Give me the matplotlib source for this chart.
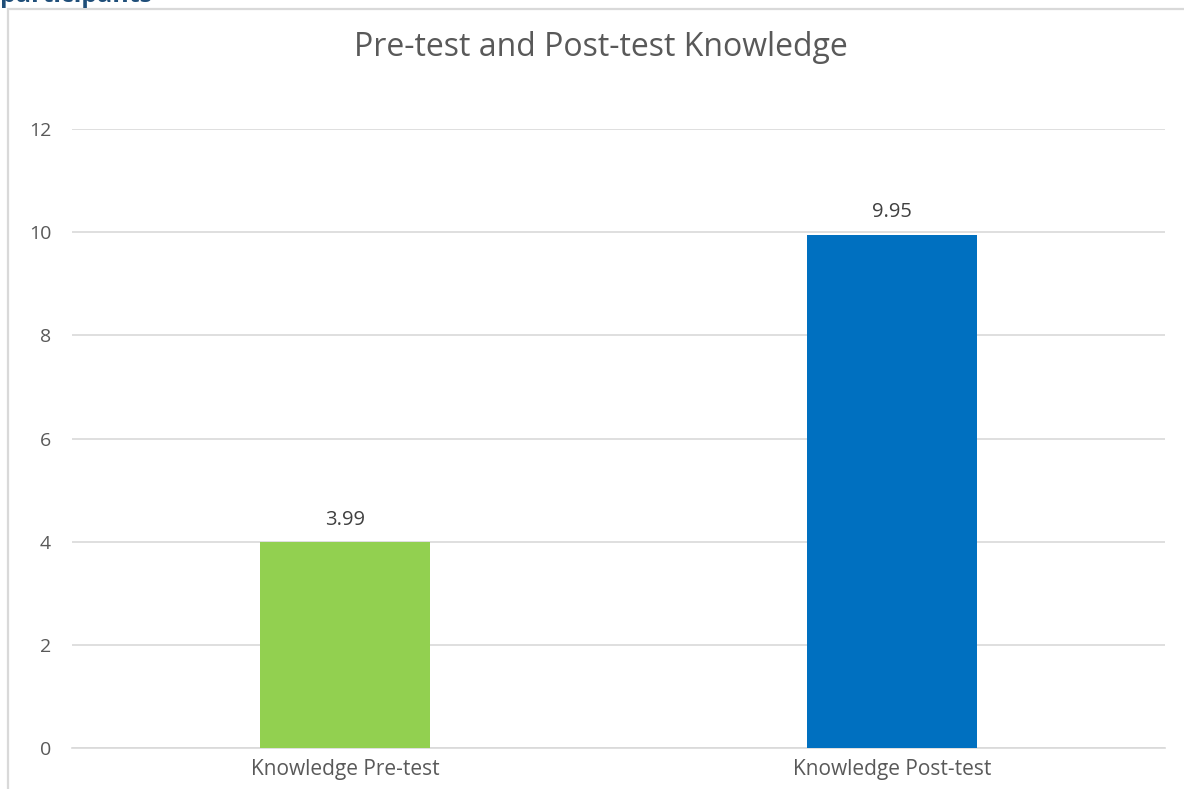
import matplotlib
matplotlib.use("Agg")
import matplotlib.pyplot as plt
from matplotlib.patches import Rectangle

categories = ["Knowledge Pre-test", "Knowledge Post-test"]
values = [3.99, 9.95]
labels = ["3.99", "9.95"]
colors = ["#92D050", "#0070C0"]
yticks = [0, 2, 4, 6, 8, 10, 12]

plt.rcParams['font.family'] = ['Open Sans', 'DejaVu Sans']

W, H = 1184, 789
fig = plt.figure(figsize=(W/100, H/100), dpi=100)
fig.patch.set_facecolor("white")

# chart border (partially cropped)
fig.add_artist(Rectangle((8/W, -0.1), 1.2, (789-9)/H + 0.1, transform=fig.transFigure,
                         fill=False, edgecolor="#D9D9D9", linewidth=1.6))
# cropped caption text above the chart
fig.text(0/W, 1 - 2/H, "participants", color="#1F4E79", fontsize=18, fontweight="bold",
         va="baseline", ha="left")

ax = fig.add_axes([72/W, 41/H, (1165-72)/W, (748-129)/H])
x = list(range(len(categories)))
bars = ax.bar(x, values, width=0.311, color=colors, zorder=3)
ax.set_xlim(-0.5, 1.5)
ax.set_ylim(0, 12)
ax.set_yticks(yticks)
ax.set_yticklabels([str(t) for t in yticks])
ax.set_xticks(x)
ax.set_xticklabels(categories)
ax.grid(axis="y", color="#D9D9D9", linewidth=1.2, zorder=0)
for s in ["top", "right", "left"]:
    ax.spines[s].set_visible(False)
ax.spines["bottom"].set_color("#D9D9D9")
ax.spines["bottom"].set_linewidth(1.2)
ax.tick_params(axis="y", length=0, colors="#595959", labelsize=14, pad=15)
ax.tick_params(axis="x", length=0, colors="#595959", labelsize=15, pad=8)

for xi, v, lab in zip(x, values, labels):
    ax.annotate(lab, (xi, v), xytext=(0, 9), textcoords="offset points",
                ha="center", va="bottom", color="#404040", fontsize=14.5)

fig.text(601 / W, 1 - 47/H, "Pre-test and Post-test Knowledge",
         ha="center", va="center", color="#595959", fontsize=23)

fig.savefig("out.png", dpi=100)
